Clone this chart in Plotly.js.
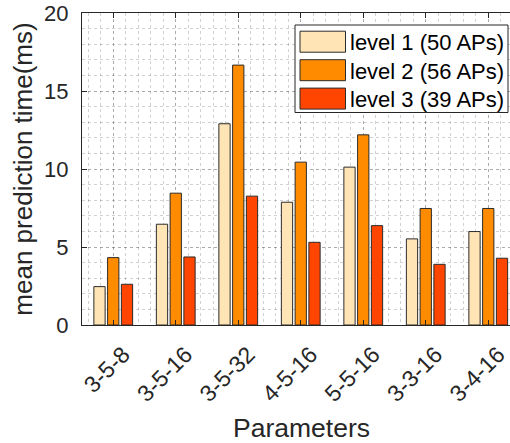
<!DOCTYPE html>
<html>
<head>
<meta charset="utf-8">
<script src="https://cdn.plot.ly/plotly-3.0.1.min.js"></script>
<style>
  html, body { margin: 0; padding: 0; background: #fff; }
  #chart { width: 510px; height: 443px; }
</style>
</head>
<body>
<div id="chart"></div>
<script>
// Parameter combinations on the x axis
const categories = ['3-5-8', '3-5-16', '3-5-32', '4-5-16', '5-5-16', '3-3-16', '3-4-16'];

// Mean prediction time (ms) per level
const level1 = [2.46, 6.46, 12.90, 7.87, 10.12, 5.52, 5.99];
const level2 = [4.32, 8.45, 16.66, 10.44, 12.19, 7.47, 7.47];
const level3 = [2.61, 4.36, 8.26, 5.30, 6.37, 3.89, 4.28];

const seriesNames = ['level 1 (50 APs)', 'level 2 (56 APs)', 'level 3 (39 APs)'];
const seriesColors = ['#FFE4B5', '#FF8C00', '#FF4500'];
const seriesValues = [level1, level2, level3];

const yTickVals = [0, 5, 10, 15, 20];

const W = 510, H = 443;
const M = { l: 82, r: 0, t: 13, b: 118 };
const plotW = W - M.l - M.r, plotH = H - M.t - M.b;
// one category slot is 62.5px wide; the axis box is cut by the right edge
const slotPx = 62.5;
// pixel -> paper helpers for the hand-built legend and x title
const px = x => (x - M.l) / plotW;
const py = y => (H - M.b - y) / plotH;

const xPos = categories.map((_, i) => i + 1);
const FONT = 'Liberation Sans, Arial, Helvetica, sans-serif';
const TXT = '#262626';
const GRID = 'rgba(0,0,0,0.18)';

const traces = seriesValues.map((vals, k) => ({
  type: 'bar',
  x: xPos,
  y: vals,
  name: seriesNames[k],
  marker: { color: seriesColors[k], line: { color: '#2b2b2b', width: 1 } },
  hoverinfo: 'none',
  showlegend: false
}));

// legend: frame, swatches and labels
const shapes = [{
  type: 'rect', xref: 'paper', yref: 'paper', layer: 'above',
  x0: px(295), x1: px(508), y0: py(25), y1: py(112.5),
  fillcolor: '#ffffff', line: { color: TXT, width: 1 }
}];
const annotations = [];
const rowCenters = [41.7, 70.2, 98.6];
seriesNames.forEach((name, k) => {
  const c = rowCenters[k];
  shapes.push({
    type: 'rect', xref: 'paper', yref: 'paper', layer: 'above',
    x0: px(300), x1: px(345.5), y0: py(c - 10.5), y1: py(c + 10.5),
    fillcolor: seriesColors[k], line: { color: '#2b2b2b', width: 1 }
  });
  annotations.push({
    xref: 'paper', yref: 'paper', x: px(348), y: py(c + 1),
    xanchor: 'left', yanchor: 'middle', showarrow: false,
    text: name, font: { family: FONT, size: 22, color: '#000' }
  });
});

// x axis title, centred on the full (partly off-screen) axis box
annotations.push({
  xref: 'paper', yref: 'paper', x: px(301), y: py(428),
  xanchor: 'center', yanchor: 'middle', showarrow: false,
  text: 'Parameters', font: { family: FONT, size: 26.5, color: TXT }
});

const layout = {
  width: W, height: H,
  margin: M,
  paper_bgcolor: '#fff', plot_bgcolor: '#fff',
  barmode: 'group', bargap: 0.34, bargroupgap: 0.18,
  font: { family: FONT, color: TXT },
  xaxis: {
    range: [0.5, 0.5 + plotW / slotPx],
    tickvals: xPos, ticktext: categories, tickangle: -45,
    tickfont: { family: FONT, size: 23, color: TXT },
    ticklabelshift: 10, ticklabelstandoff: 6, ticklabeloverflow: 'allow',
    ticks: 'inside', ticklen: 5, tickcolor: TXT,
    showline: true, linecolor: TXT, linewidth: 1, mirror: 'ticks',
    showgrid: true, gridcolor: GRID, griddash: 'dot', gridwidth: 1,
    minor: { tick0: 0.6, dtick: 0.2, showgrid: true, gridcolor: GRID, griddash: 'dot', gridwidth: 1 },
    zeroline: false, automargin: false
  },
  yaxis: {
    range: [0, 20],
    tickvals: yTickVals, ticktext: yTickVals.map(String),
    tickfont: { family: FONT, size: 22, color: TXT },
    ticks: 'inside', ticklen: 5, tickcolor: TXT, ticklabelstandoff: 8,
    showline: true, linecolor: TXT, linewidth: 1,
    showgrid: true, gridcolor: GRID, griddash: 'dot', gridwidth: 1,
    minor: { dtick: 1, showgrid: true, gridcolor: GRID, griddash: 'dot', gridwidth: 1 },
    zeroline: false, automargin: false,
    title: { text: 'mean prediction time(ms)', font: { family: FONT, size: 26, color: TXT }, standoff: 4 }
  },
  shapes: shapes,
  annotations: annotations
};

Plotly.newPlot('chart', traces, layout, { staticPlot: true, displayModeBar: false });
</script>
</body>
</html>
